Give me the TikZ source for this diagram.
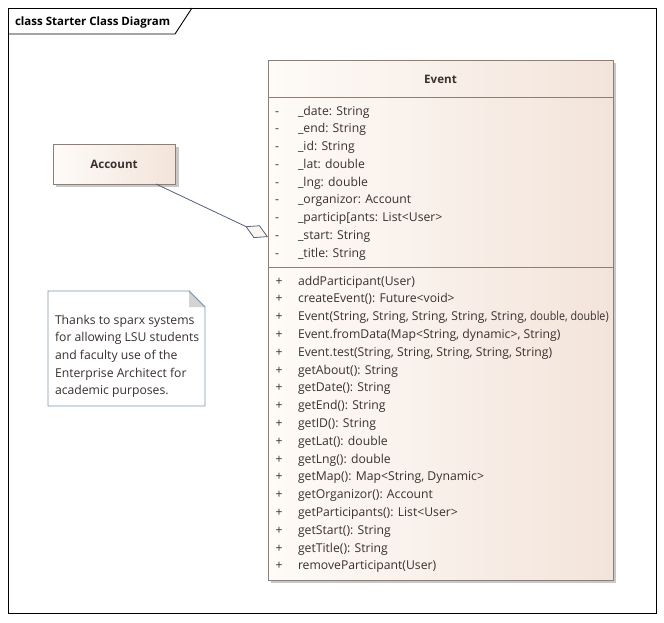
\documentclass[tikz,border=0pt]{standalone}
\usepackage{graphicx}
\usepackage{fontspec}
\setmainfont{Open Sans}
\usetikzlibrary{arrows.meta}
\definecolor{txt}{HTML}{3A3030}
\definecolor{cborder}{HTML}{8E7E74}
\definecolor{cfillL}{HTML}{FEFBF8}
\definecolor{cfillR}{HTML}{F3E4DA}
\definecolor{lnk}{HTML}{56607A}
\definecolor{noteb}{HTML}{7C98AE}
\definecolor{foldc}{HTML}{D3D3D3}
\definecolor{shadowc}{HTML}{C8C8C8}
\definecolor{dfill}{HTML}{FBF5EF}
\begin{document}
\begin{tikzpicture}[x=1pt,y=-1pt,
  every node/.style={inner sep=0pt, outer sep=0pt, text=txt},
  font=\fontsize{12.2}{14}\selectfont,
  classbox/.style={draw=cborder, line width=0.8pt, left color=cfillL, right color=cfillR},
  sep/.style={draw=cborder, line width=0.8pt},
  member/.style={anchor=base west},
  marker/.style={anchor=base},
  classname/.style={anchor=base, font=\fontsize{11.6}{14}\selectfont\bfseries},
  link/.style={draw=lnk, line width=0.8pt},
  framel/.style={draw=black, line width=0.9pt}
]
\useasboundingbox (0,0) rectangle (664,622);
\fill[white] (0,0) rectangle (664,622);

% frame
\draw[framel] (8,8) rectangle (656,613);
\draw[framel] (8,34) -- (175,34) -- (192,8);
\node[anchor=base west, font=\fontsize{11.5}{14}\selectfont\bfseries, text=black] (frametitle) at (15,25) {class Starter Class Diagram};

% Account
\fill[shadowc] (56,147) rectangle (179,187);
\node[classbox, anchor=north west, minimum width=122pt, minimum height=40pt] (account) at (53,144) {};
\node[classname] (accountname) at (114,168) {Account};

% Event
\fill[shadowc] (271,63) rectangle (616,583);
\node[classbox, anchor=north west, minimum width=345pt, minimum height=520pt] (event) at (268,60) {};
\node[classname] (eventname) at (440.5,83.5) {Event};
\draw[sep] (268,97) -- (613,97);
\draw[sep] (268,267) -- (613,267);

\foreach \t [count=\i] in {{\_date: String},{\_end: String},{\_id: String},{\_lat: double},{\_lng: double},{\_organizor: Account},{\_particip[ants: List<User>},{\_start: String},{\_title: String}} {
  \node[marker] (attrv\i) at (277,115+17.75*\i-17.75) {-};
  \node[member] (attr\i) at (298,115+17.75*\i-17.75) {\t};
}
\foreach \t [count=\i] in {{addParticipant(User)},{createEvent(): Future<void>},{Event(String, String, String, String, String, \scalebox{0.88}[1]{double, double)}},{Event.fromData(Map<String, dynamic>, String)},{Event.test(String, String, String, String, String)},{getAbout(): String},{getDate(): String},{getEnd(): String},{getID(): String},{getLat(): double},{getLng(): double},{getMap(): Map<String, Dynamic>},{getOrganizor(): Account},{getParticipants(): List<User>},{getStart(): String},{getTitle(): String},{removeParticipant(User)}} {
  \node[marker] (opv\i) at (279,285+17.8*\i-17.8) {+};
  \node[member] (op\i) at (298,285+17.8*\i-17.8) {\t};
}

% association with aggregation diamond
\coordinate (accfoot) at (156,184);
\coordinate (eventhook) at (268,237);
\draw[link, -{Diamond[length=25pt, width=14pt, fill=dfill]}] (accfoot) -- (eventhook);

% note
\draw[noteb, line width=0.8pt, fill=white] (48,291) -- (189,291) -- (205,307) -- (205,406) -- (48,406) -- cycle;
\fill[foldc] (189,291) -- (205,307) -- (189,307) -- cycle;
\draw[noteb, line width=0.8pt] (189,291) -- (205,307);
\foreach \t [count=\i] in {{Thanks to sparx systems},{for allowing LSU students},{and faculty use of the},{Enterprise Architect for},{academic purposes.}} {
  \node[member] (note\i) at (55,324+17.7*\i-17.7) {\t};
}
\end{tikzpicture}
\end{document}
